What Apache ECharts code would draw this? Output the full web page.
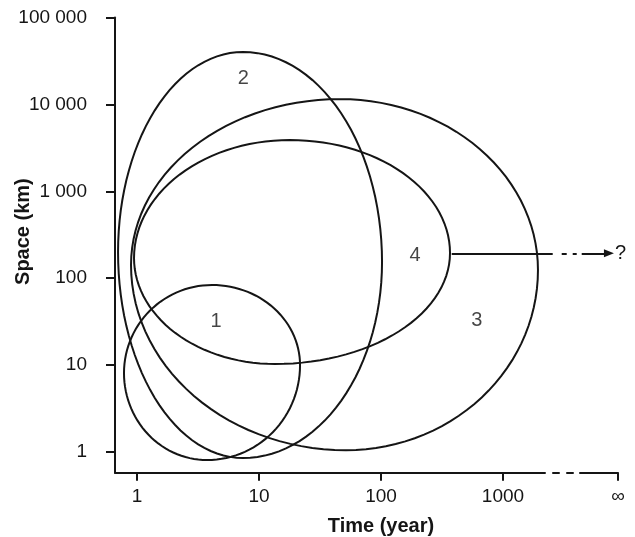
<!DOCTYPE html>
<html>
<head>
<meta charset="utf-8">
<script src="https://cdn.jsdelivr.net/npm/echarts@6/dist/echarts.min.js"></script>
<style>
html, body { margin: 0; padding: 0; background: #fff; }
#chart { width: 635px; height: 537px; }
</style>
</head>
<body>
<div id="chart"></div>
<script>
'use strict';

///// data /////

// axis ticks (the last time tick stands for infinity)
const timeTicks = [1, 10, 100, 1000, 8770];
const timeTickLabels = ['1', '10', '100', '1000', '∞'];
const spaceTicks = [1, 10, 100, 1000, 10000, 100000];
const spaceTickLabels = ['1', '10', '100', '1 000', '10 000', '100 000'];

// each domain by its extreme points [time (year), space (km)]: left, top, right, bottom
const loop1 = [[0.782, 8.1], [4.12, 83.5], [21.7, 10.0], [3.75, 0.809]];
const loop2 = [[0.699, 200], [7.39, 40100], [102, 154], [7.39, 0.853]];
const loop3 = [[0.893, 142], [46.1, 11500], [1936, 124], [51.6, 1.05]];
const loop4 = [[0.945, 171], [17.9, 3890], [368, 195], [13.5, 10.3]];

const loopNames = ['1', '2', '3', '4'];
const loopNamePos = [[4.44, 31.6], [7.43, 19950], [609, 33.0], [190, 185]];

// arrow leaving domain 4 towards the unknown
const arrowFrom = [380, 193.5];
const arrowTo = [7390, 193.5];
const arrowText = '?';

///// chart /////

const loops = [loop1, loop2, loop3, loop4];
const ink = '#151515';
const font = "'Liberation Sans', Arial, Helvetica, sans-serif";

const pickLabel = (ticks, labels) => (v) => {
  const i = ticks.findIndex(t => Math.abs(Math.log10(t) - Math.log10(v)) < 0.01);
  return i < 0 ? '' : labels[i];
};

// closed outline made of four quarter ellipses between the extreme points
const outline = (L, T, R, B) => {
  const quarters = [
    [T[0], R[1], R[0] - T[0], R[1] - T[1], -90],
    [B[0], R[1], R[0] - B[0], B[1] - R[1], 0],
    [B[0], L[1], B[0] - L[0], B[1] - L[1], 90],
    [T[0], L[1], T[0] - L[0], L[1] - T[1], 180]
  ];
  const pts = [];
  for (const [cx, cy, rx, ry, a0] of quarters) {
    for (let k = 0; k < 30; k++) {
      const a = (a0 + k * 3) * Math.PI / 180;
      pts.push([cx + rx * Math.cos(a), cy + ry * Math.sin(a)]);
    }
  }
  return pts;
};

const option = {
  animation: false,
  backgroundColor: '#fff',
  textStyle: { fontFamily: font },
  grid: { left: 115, top: 17.5, right: 17, bottom: 64.3, containLabel: false, outerBoundsMode: 'none' },
  xAxis: {
    type: 'log', logBase: 10, min: 0.66, max: 8770,
    name: 'Time (year)', nameLocation: 'middle', nameGap: 44, nameMoveOverlap: false,
    nameTextStyle: { fontSize: 20, fontWeight: 'bold', color: ink, padding: [0, 0, 0, 29] },
    axisLine: { lineStyle: { color: ink, width: 2, type: [430, 8, 6, 8, 6, 7, 60] } },
    axisTick: { length: 8, lineStyle: { color: ink, width: 2 }, customValues: timeTicks },
    axisLabel: { customValues: timeTicks, formatter: pickLabel(timeTicks, timeTickLabels), margin: 15, fontSize: 19, color: ink },
    splitLine: { show: false }
  },
  yAxis: {
    type: 'log', logBase: 10, min: 0.578, max: 100000,
    name: 'Space (km)', nameLocation: 'middle', nameGap: 82, nameMoveOverlap: false,
    nameTextStyle: { fontSize: 20, fontWeight: 'bold', color: ink, padding: [0, 0, 0, 27] },
    axisLine: { lineStyle: { color: ink, width: 2 } },
    axisTick: { length: 9, lineStyle: { color: ink, width: 2 }, customValues: spaceTicks },
    axisLabel: { customValues: spaceTicks, formatter: pickLabel(spaceTicks, spaceTickLabels), margin: 28, fontSize: 19, color: ink },
    splitLine: { show: false }
  },
  series: [
    {
      type: 'custom',
      silent: true,
      data: loops.map(l => l[0]),
      renderItem: (params, api) => {
        const [L, T, R, B] = loops[params.dataIndex].map(p => api.coord(p));
        return {
          type: 'polygon',
          shape: { points: outline(L, T, R, B) },
          style: { fill: 'none', stroke: ink, lineWidth: 2 }
        };
      }
    },
    {
      type: 'scatter',
      silent: true,
      symbolSize: 0,
      data: loopNamePos.map((p, i) => ({ value: p, name: loopNames[i] })),
      label: { show: true, position: 'inside', formatter: p => p.name, fontSize: 20, color: ink },
      markLine: {
        silent: true,
        symbol: ['none', 'triangle'],
        symbolSize: [8, 10],
        lineStyle: { color: ink, width: 2, type: [101, 9, 5, 6, 4, 5, 60] },
        label: { show: true, position: 'end', formatter: arrowText, fontSize: 20, color: ink, distance: 6 },
        data: [[{ coord: arrowFrom }, { coord: arrowTo }]]
      }
    }
  ]
};

const chart = echarts.init(document.getElementById('chart'), null, { renderer: 'canvas' });
chart.setOption(option);
</script>
</body>
</html>
